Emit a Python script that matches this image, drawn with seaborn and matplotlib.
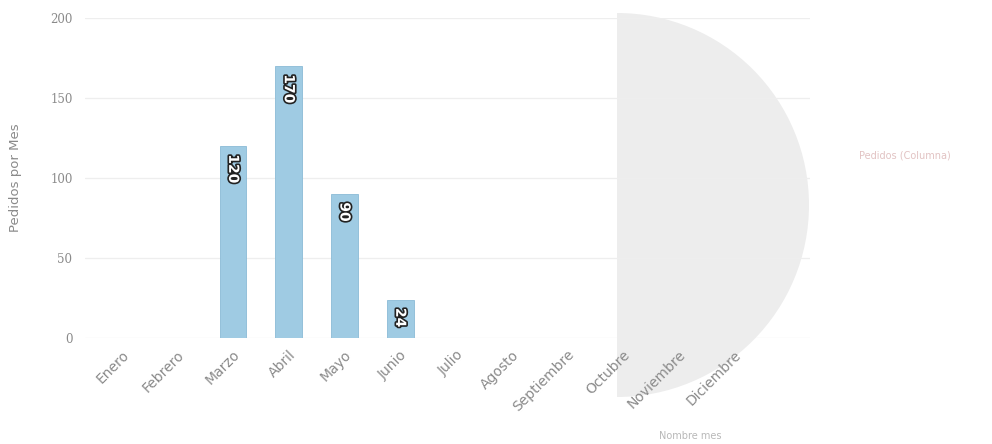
import matplotlib
matplotlib.use("Agg")
import matplotlib.pyplot as plt
import seaborn as sns
import pandas as pd
from matplotlib.patches import Wedge
import matplotlib.patheffects as pe

meses = ["Enero", "Febrero", "Marzo", "Abril", "Mayo", "Junio", "Julio",
         "Agosto", "Septiembre", "Octubre", "Noviembre", "Diciembre"]
pedidos = [0, 0, 120, 170, 90, 24, 0, 0, 0, 0, 0, 0]
y_ticks = [0, 50, 100, 150, 200]

df = pd.DataFrame({"Mes": meses, "Pedidos": pedidos})

sns.set_theme(style="white")
plt.rcParams["font.family"] = ["DejaVu Sans"]

W, H = 992, 444
fig = plt.figure(figsize=(W / 100, H / 100), dpi=100)
fig.patch.set_facecolor("white")

# faint scan artefact (half-moon shadow)
moon = Wedge((617 / 100, (H - 205) / 100), 1.92, -90, 90,
             transform=fig.dpi_scale_trans, facecolor="#ededed",
             edgecolor="none", zorder=0)
fig.patches.append(moon)

ax = fig.add_axes([85 / W, (H - 338) / H, (810 - 85) / W, (338 - 18) / H])
ax.set_facecolor("none")
ax.set_zorder(2)

sns.barplot(data=df, x="Mes", y="Pedidos", ax=ax, color="#9fcbe3",
            width=0.48, edgecolor="#8bbbd6", linewidth=0.6, saturation=1)

ax.set_ylim(0, 200)
ax.set_xlim(-0.66, 12.36)
ax.set_yticks(y_ticks)
ax.set_yticklabels([str(v) for v in y_ticks], family="DejaVu Serif",
                   color="#8a8a8a", fontsize=8.5)
ax.yaxis.grid(True, color="#eeeeee", linewidth=0.9)
ax.set_axisbelow(True)
for s in ax.spines.values():
    s.set_visible(False)
ax.tick_params(axis="both", length=0)
ax.tick_params(axis="y", pad=9)

ax.set_xticks(range(len(meses)))
ax.set_xticklabels(meses, rotation=45, ha="right", rotation_mode="anchor",
                   color="#8a8a8a", fontsize=10)
ax.tick_params(axis="x", pad=7)

ax.set_ylabel("Pedidos por Mes", color="#8a8a8a", fontsize=9.5, labelpad=20)
ax.set_xlabel("")

for p, v in zip(ax.patches, pedidos):
    if v <= 0:
        continue
    ax.annotate(str(v), (p.get_x() + p.get_width() / 2, p.get_height()),
                xytext=(0, -6), textcoords="offset points",
                rotation=-90, ha="center", va="top", fontsize=10,
                fontweight="bold", color="white",
                path_effects=[pe.withStroke(linewidth=2.4, foreground="#222222")])

fig.text(690 / W, 1 - 436 / H, "Nombre mes", color="#b8b8b8",
         fontsize=7, ha="center", va="center")
fig.text(905 / W, 1 - 156 / H, "Pedidos (Columna)", color="#e2c3c3",
         fontsize=7, ha="center", va="center")

fig.savefig("out.png", dpi=100, facecolor="white")
